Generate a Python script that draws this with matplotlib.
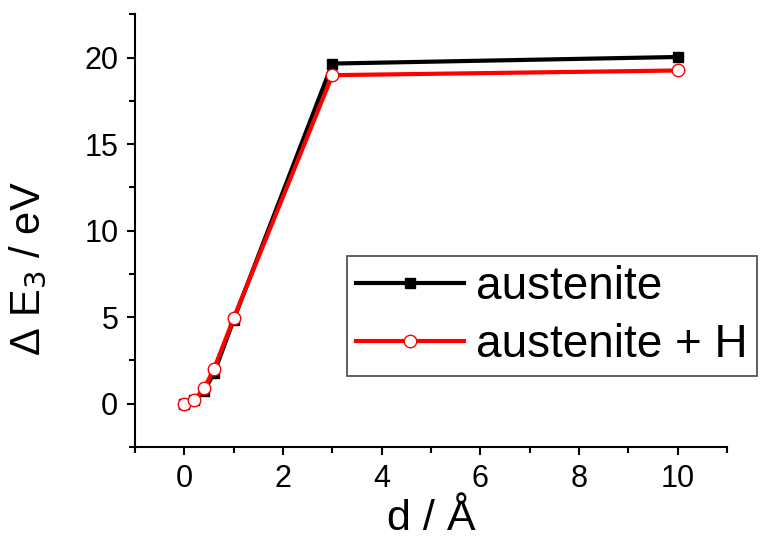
import numpy as np
import matplotlib
matplotlib.use("Agg")
import matplotlib.pyplot as plt
from matplotlib.ticker import MultipleLocator

plt.rcParams['font.family'] = ['Liberation Sans', 'DejaVu Sans']

d = [0, 0.2, 0.4, 0.6, 1, 3, 10]
dE_aust = [0.0, 0.2, 0.75, 1.75, 4.85, 19.65, 20.03]
dE_aust_H = [0.0, 0.23, 0.88, 2.0, 4.94, 18.98, 19.25]

fig = plt.figure(figsize=(7.61, 5.47), dpi=100)
ax = fig.add_axes([0.1774, 0.1828, 0.778, 0.7912])

ax.plot(d, dE_aust, color="black", linewidth=3.0, marker="s", markersize=7.5,
        label="austenite")
ax.plot(d, dE_aust_H, color="red", linewidth=3.0, marker="o", markersize=9,
        markerfacecolor="white", markeredgecolor="red", markeredgewidth=1.0,
        label="austenite + H")

ax.set_xlim(-1, 11)
ax.set_ylim(-2.5, 22.5)
ax.xaxis.set_major_locator(MultipleLocator(2))
ax.xaxis.set_minor_locator(MultipleLocator(1))
ax.yaxis.set_major_locator(MultipleLocator(5))
ax.yaxis.set_minor_locator(MultipleLocator(2.5))

for side in ["top", "right"]:
    ax.spines[side].set_visible(False)
for side in ["left", "bottom"]:
    ax.spines[side].set_linewidth(1.5)

ax.tick_params(which="major", direction="out", length=6, width=1.5, labelsize=22, pad=6)
ax.tick_params(which="minor", direction="out", length=4, width=1.5)

ax.set_xlabel("d / Å", fontsize=31, labelpad=4)
ax.set_ylabel("Δ E$_3$ / eV", fontsize=30)
ax.yaxis.set_label_coords(-0.145, 0.413)

leg = ax.legend(loc="upper left", bbox_to_anchor=(0.358, 0.441), borderaxespad=0,
                fontsize=33, handlelength=2.36, frameon=True, fancybox=False,
                edgecolor="#444444", framealpha=1, borderpad=0.2,
                labelspacing=0.3, handletextpad=0.26)
leg.get_frame().set_linewidth(1.2)

fig.savefig("out.png", dpi=100)
